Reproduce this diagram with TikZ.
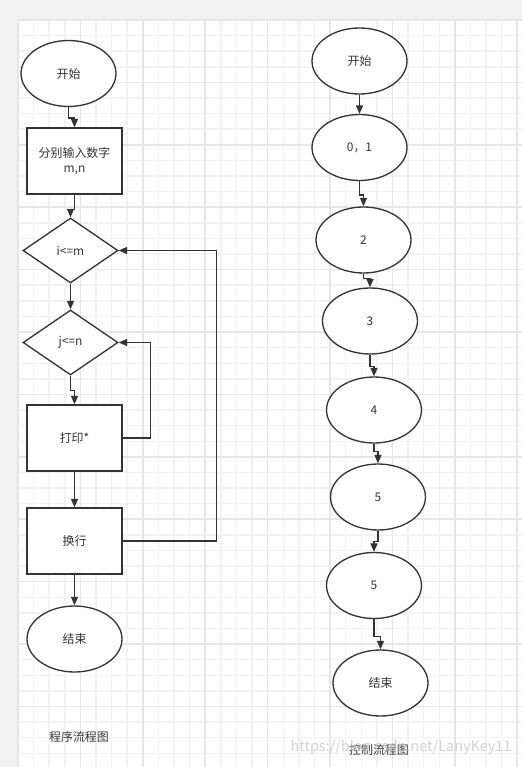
\documentclass[tikz,border=0pt]{standalone}
\usepackage{fontspec}
\setmainfont{Noto Sans CJK SC}
\usetikzlibrary{shapes.geometric, arrows.meta, positioning}

\definecolor{inkgray}{HTML}{333333}
\definecolor{pagegray}{HTML}{F1F1F1}
\definecolor{minorline}{HTML}{F2F2F2}
\definecolor{majorline}{HTML}{E6E6E6}

\begin{document}
\begin{tikzpicture}[x=0.02cm, y=-0.02cm,
    every node/.style={font=\fontsize{6.8}{8.5}\selectfont, text=inkgray},
    termbox/.style={draw=inkgray, ellipse, line width=0.75pt, fill=white, minimum width=1.9cm, minimum height=1.32cm, inner sep=0pt},
    procbox/.style={draw=inkgray, rectangle, line width=0.75pt, fill=white, minimum width=1.9cm, minimum height=1.32cm, align=center},
    decision/.style={draw=inkgray, diamond, line width=0.75pt, fill=white, minimum width=1.9cm, minimum height=1.3cm, inner sep=0pt},
    arrow/.style={-{Triangle[length=0.17cm, width=0.14cm]}, draw=inkgray, line width=0.75pt},
    gridminor/.style={draw=minorline, line width=0.8pt},
    gridmajor/.style={draw=majorline, line width=1pt}
]
    % Page and grid
    \useasboundingbox (0,0) rectangle (522,767);
    \fill[pagegray] (0,0) rectangle (522,767);
    \fill[white] (18,20) rectangle (522,767);
    \foreach \i in {0,...,32} \draw[gridminor] ({18+15.6*\i},20) -- ({18+15.6*\i},767);
    \foreach \i in {0,...,47} \draw[gridminor] (18,{20+15.6*\i}) -- (522,{20+15.6*\i});
    \foreach \i in {0,...,8} \draw[gridmajor] ({18+62.4*\i},20) -- ({18+62.4*\i},767);
    \foreach \i in {0,...,12} \draw[gridmajor] (18,{20+62.4*\i}) -- (522,{20+62.4*\i});

    % Program flow chart (left)
    \node (start) [termbox] at (68.5, 73.5) {开始};
    \node (input) [procbox] at (74.5, 161) {分别输入数字\\m,n};
    \node (cond_i) [decision] at (70.5, 250.5) {i<=m};
    \node (cond_j) [decision] at (70.5, 342.5) {j<=n};
    \node (print) [procbox] at (74.5, 438) {打印*};
    \node (newline) [procbox] at (74.5, 541) {换行};
    \node (stop) [termbox] at (74.5, 639) {结束};
    \node (prog_title) at (79, 737) {程序流程图};

    \draw [arrow] (start.south) -- ++(0,11) -| (input.north);
    \draw [arrow] (input.south) -- ++(0,15) -| (cond_i.north);
    \draw [arrow] (cond_i) -- (cond_j);
    \draw [arrow] (cond_j.south) -- ++(0,15) -| (print.north);
    \draw [arrow] (print.east) -- ++(28,0) |- (cond_j.east);
    \draw [arrow] (print) -- (newline);
    \draw [arrow] (newline.east) -- ++(94,0) |- (cond_i.east);
    \draw [arrow] (newline) -- (stop);

    % Control flow chart (right)
    \node (c_start) [termbox] at (359.5, 61) {开始};
    \node (c_one) [termbox] at (359.5, 147.5) {0，1};
    \node (c_two) [termbox] at (363.5, 240) {2};
    \node (c_three) [termbox] at (370, 321) {3};
    \node (c_four) [termbox] at (374, 410) {4};
    \node (c_five) [termbox] at (378, 497) {5};
    \node (c_fiveb) [termbox] at (374, 585.5) {5};
    \node (c_stop) [termbox] at (380.5, 683) {结束};
    \node (ctrl_title) at (379, 750) {控制流程图};

    \draw [arrow] (c_start) -- (c_one);
    \draw [arrow] (c_one.south) -- ++(0,14) -| (c_two.north);
    \draw [arrow] (c_two.south) -- ++(0,5) -| (c_three.north);
    \draw [arrow] (c_three.south) -- ++(0,12) -| (c_four.north);
    \draw [arrow] (c_four.south) -- ++(0,8) -| (c_five.north);
    \draw [arrow] (c_five.south) -- ++(0,11) -| (c_fiveb.north);
    \draw [arrow] (c_fiveb.south) -- ++(0,17) -| (c_stop.north);

    % Watermark
    \node (mark) [font=\fontsize{8.2}{10}\selectfont, text=black!22, opacity=0.8] at (401, 748) {https://blog.csdn.net/LanyKey11};
\end{tikzpicture}
\end{document}
